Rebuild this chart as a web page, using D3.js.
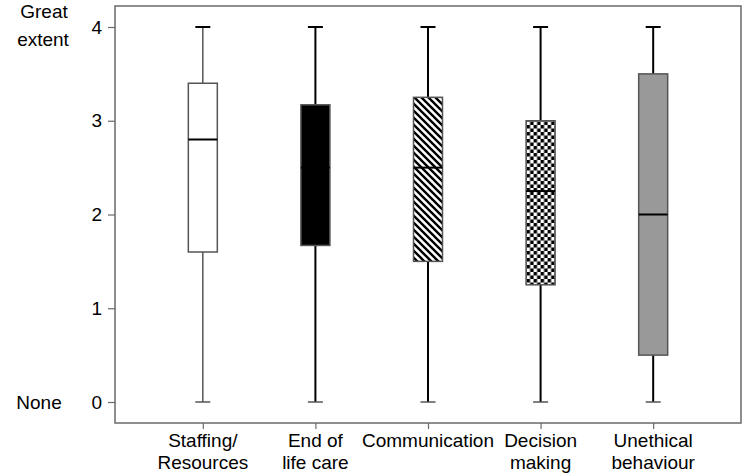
<!DOCTYPE html>
<html>
<head>
<meta charset="utf-8">
<script src="https://cdn.jsdelivr.net/npm/d3@7/dist/d3.min.js"></script>
<style>
    body { margin: 0; background: #fff; }
    svg text { font-family: "Liberation Sans", Arial, sans-serif; fill: #000; }
</style>
</head>
<body>
<svg id="chart" width="750" height="474"></svg>
<script>
// ----- data
var categories = ["Staffing/Resources", "End of life care", "Communication", "Decision making", "Unethical behaviour"];
var categoryLines = [["Staffing/", "Resources"], ["End of", "life care"], ["Communication"], ["Decision", "making"], ["Unethical", "behaviour"]];
var minValues = [0, 0, 0, 0, 0];
var q1Values = [1.6, 1.67, 1.5, 1.25, 0.5];
var medianValues = [2.8, 2.5, 2.5, 2.25, 2.0];
var q3Values = [3.4, 3.17, 3.25, 3.0, 3.5];
var maxValues = [4, 4, 4, 4, 4];
var fills = ["white", "black", "url(#diag)", "url(#checker)", "#999999"];
var whiskerColors = ["#555", "black", "black", "black", "black"];
var yTicks = [0, 1, 2, 3, 4];

drawChart();

function drawChart() {
    var svg = d3.select("#chart"),
        margin = { top: 6, right: 9, bottom: 51, left: 115 },
        width = +svg.attr("width") - margin.left - margin.right,
        height = +svg.attr("height") - margin.top - margin.bottom;

    // ----- fill patterns
    var defs = svg.append("defs");
    var diag = defs.append("pattern")
        .attr("id", "diag")
        .attr("patternUnits", "userSpaceOnUse")
        .attr("width", 7).attr("height", 7);
    diag.append("rect").attr("width", 7).attr("height", 7).attr("fill", "white");
    diag.append("path")
        .attr("d", "M-1,-1 L8,8 M-2,5 L2,9 M5,-2 L9,2")
        .attr("stroke", "black")
        .attr("stroke-width", 2.4);

    var checker = defs.append("pattern")
        .attr("id", "checker")
        .attr("patternUnits", "userSpaceOnUse")
        .attr("width", 7).attr("height", 7);
    checker.append("rect").attr("width", 7).attr("height", 7).attr("fill", "white");
    checker.append("rect").attr("width", 3.5).attr("height", 3.5).attr("fill", "black");
    checker.append("rect").attr("x", 3.5).attr("y", 3.5).attr("width", 3.5).attr("height", 3.5).attr("fill", "black");

    var g = svg.append("g").attr("transform", "translate(" + margin.left + "," + margin.top + ")");

    var x = d3.scalePoint().domain(categories).range([0, width]).padding(0.78),
        y = d3.scaleLinear().domain([0, 4]).range([396, 21]);

    var boxWidth = 29, capWidth = 15;

    // frame
    g.append("rect")
        .attr("width", width).attr("height", height)
        .attr("fill", "none")
        .attr("stroke", "#6a6a6a")
        .attr("stroke-width", 1.5);

    // axes
    var yAxis = g.append("g")
        .call(d3.axisLeft(y).tickValues(yTicks).tickSize(7).tickPadding(6).tickFormat(d3.format("d")));
    yAxis.select(".domain").remove();
    yAxis.selectAll("line").attr("stroke", "#6a6a6a").attr("stroke-width", 1.2);
    yAxis.selectAll("text").style("font-size", "19px").attr("font-family", null);

    var xAxis = g.append("g")
        .attr("transform", "translate(0," + height + ")")
        .call(d3.axisBottom(x).tickSize(6).tickFormat(""));
    xAxis.select(".domain").remove();
    xAxis.selectAll("line").attr("stroke", "#6a6a6a").attr("stroke-width", 1.2);

    // category labels (two lines)
    var labels = g.selectAll(".cat-label")
        .data(categories)
        .enter().append("text")
        .attr("class", "cat-label")
        .attr("text-anchor", "middle")
        .attr("transform", function (d) { return "translate(" + x(d) + "," + (height + 24) + ")"; })
        .style("font-size", "19px");
    labels.each(function (d, i) {
        var t = d3.select(this);
        categoryLines[i].forEach(function (line, k) {
            t.append("tspan").attr("x", 0).attr("y", k * 22).text(line);
        });
    });

    // y end labels
    g.append("text").attr("text-anchor", "middle").attr("x", 44 - margin.left).attr("y", 12)
        .style("font-size", "19px").text("Great");
    g.append("text").attr("text-anchor", "middle").attr("x", 43 - margin.left).attr("y", 40)
        .style("font-size", "19px").text("extent");
    g.append("text").attr("text-anchor", "middle").attr("x", 39 - margin.left).attr("y", y(0) + 7)
        .style("font-size", "19px").text("None");

    // boxes
    var boxes = g.selectAll(".box")
        .data(categories)
        .enter().append("g")
        .attr("class", "box")
        .attr("transform", function (d) { return "translate(" + x(d) + ",0)"; });

    // whiskers
    boxes.append("line")
        .attr("y1", function (d, i) { return y(maxValues[i]); })
        .attr("y2", function (d, i) { return y(q3Values[i]); })
        .attr("stroke", function (d, i) { return whiskerColors[i]; })
        .attr("stroke-width", function (d, i) { return i === 0 ? 1.5 : 2; });
    boxes.append("line")
        .attr("y1", function (d, i) { return y(q1Values[i]); })
        .attr("y2", function (d, i) { return y(minValues[i]); })
        .attr("stroke", function (d, i) { return whiskerColors[i]; })
        .attr("stroke-width", function (d, i) { return i === 0 ? 1.5 : 2; });
    boxes.append("line")
        .attr("x1", -capWidth / 2).attr("x2", capWidth / 2)
        .attr("y1", function (d, i) { return y(maxValues[i]); })
        .attr("y2", function (d, i) { return y(maxValues[i]); })
        .attr("stroke", "black").attr("stroke-width", 2);
    boxes.append("line")
        .attr("x1", -capWidth / 2).attr("x2", capWidth / 2)
        .attr("y1", function (d, i) { return y(minValues[i]); })
        .attr("y2", function (d, i) { return y(minValues[i]); })
        .attr("stroke", "#555").attr("stroke-width", 1.5);

    boxes.append("rect")
        .attr("x", -boxWidth / 2)
        .attr("width", boxWidth)
        .attr("y", function (d, i) { return y(q3Values[i]); })
        .attr("height", function (d, i) { return y(q1Values[i]) - y(q3Values[i]); })
        .attr("fill", function (d, i) { return fills[i]; })
        .attr("stroke", "#555")
        .attr("stroke-width", 1.5);

    // medians
    boxes.append("line")
        .attr("x1", -boxWidth / 2).attr("x2", boxWidth / 2)
        .attr("y1", function (d, i) { return y(medianValues[i]); })
        .attr("y2", function (d, i) { return y(medianValues[i]); })
        .attr("stroke", "black").attr("stroke-width", 2);
}
</script>
</body>
</html>
